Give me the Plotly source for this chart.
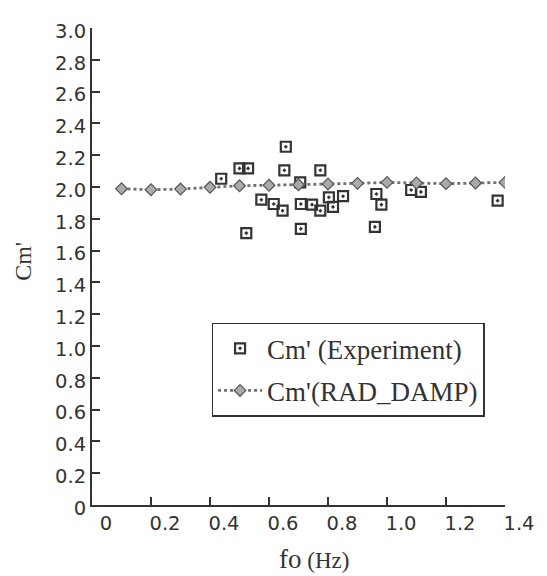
import plotly.graph_objects as go

# Experiment data (f0 in Hz, Cm')
exp_f = [0.438, 0.500, 0.529, 0.657, 0.652, 0.774, 0.706, 0.574, 0.616, 0.646,
         0.708, 0.746, 0.774, 0.803, 0.817, 0.523, 0.708, 0.851, 0.964, 0.981,
         0.959, 1.082, 1.115, 1.375]
exp_cm = [2.052, 2.117, 2.117, 2.253, 2.105, 2.105, 2.029, 1.920, 1.893, 1.851,
          1.893, 1.889, 1.851, 1.935, 1.875, 1.710, 1.737, 1.942, 1.956, 1.889,
          1.749, 1.981, 1.969, 1.914]

# RAD_DAMP prediction
rad_f = [0.1, 0.2, 0.3, 0.4, 0.5, 0.6, 0.7, 0.8, 0.9, 1.0, 1.1, 1.2, 1.3, 1.4]
rad_cm = [1.989, 1.983, 1.987, 1.998, 2.008, 2.011, 2.014, 2.019, 2.023, 2.029,
          2.025, 2.021, 2.025, 2.029]

x_tickvals = [0, 0.2, 0.4, 0.6, 0.8, 1.0, 1.2, 1.4]
x_ticktext = ["0", "0.2", "0.4", "0.6", "0.8", "1.0", "1.2", "1.4"]
y_tickvals = [0, 0.2, 0.4, 0.6, 0.8, 1.0, 1.2, 1.4, 1.6, 1.8, 2.0, 2.2, 2.4, 2.6, 2.8, 3.0]
y_ticktext = ["0", "0.2", "0.4", "0.6", "0.8", "1.0", "1.2", "1.4", "1.6", "1.8",
              "2.0", "2.2", "2.4", "2.6", "2.8", "3.0"]

INK = "#333333"
SERIF = "Liberation Serif, Times New Roman, serif"
SANS = "DejaVu Sans, Liberation Sans, Arial, sans-serif"

fig = go.Figure()
fig.add_trace(go.Scatter(
    x=exp_f, y=exp_cm, mode="markers", name="Cm' (Experiment)",
    legendgroup="a",
    marker=dict(symbol="square-open-dot", size=10, color=INK, line=dict(width=2.2, color=INK)),
))
fig.add_trace(go.Scatter(
    x=rad_f, y=rad_cm, mode="lines+markers", name="Cm'(RAD_DAMP)",
    legendgroup="b",
    line=dict(color="#707070", width=2.8, dash="dot"),
    marker=dict(symbol="diamond", size=9, color="#aaaaaa", line=dict(width=1.2, color="#555555")),
))

axis_common = dict(
    showline=True, linecolor=INK, linewidth=2,
    ticks="inside", ticklen=8, tickwidth=2, tickcolor=INK,
    showgrid=False, zeroline=False,
    tickfont=dict(family=SANS, size=19.5, color=INK),
)

# The page body has an 8px default margin; the figure is sized to fit the window.
fig.update_layout(
    width=539, height=568,
    margin=dict(l=84, r=37, t=18, b=71),
    paper_bgcolor="white", plot_bgcolor="white",
    xaxis=dict(range=[0, 1.4], tickvals=x_tickvals, ticktext=x_ticktext,
               ticklabelshift=14, **axis_common),
    yaxis=dict(range=[0, 3.0], tickvals=y_tickvals, ticktext=y_ticktext,
               ticklabelshift=3, **axis_common),
    showlegend=True,
    legend=dict(
        x=0.2895, y=0.382, xanchor="left", yanchor="top",
        bgcolor="white", bordercolor=INK, borderwidth=1.5,
        font=dict(family=SERIF, size=27, color=INK),
        itemwidth=44, traceorder="grouped", tracegroupgap=4,
    ),
    annotations=[
        dict(text="Cm'", xref="paper", yref="paper", x=-0.1675, y=0.5115,
             xanchor="center", yanchor="middle", textangle=-90, showarrow=False,
             font=dict(family=SERIF, size=24, color=INK)),
        dict(text="<span style='font-size:27px'>fo</span> (Hz)", xref="paper", yref="paper",
             x=0.538, y=-0.113, xanchor="center", yanchor="middle", showarrow=False,
             font=dict(family=SERIF, size=23, color=INK)),
    ],
)

fig.write_html("out.html")
